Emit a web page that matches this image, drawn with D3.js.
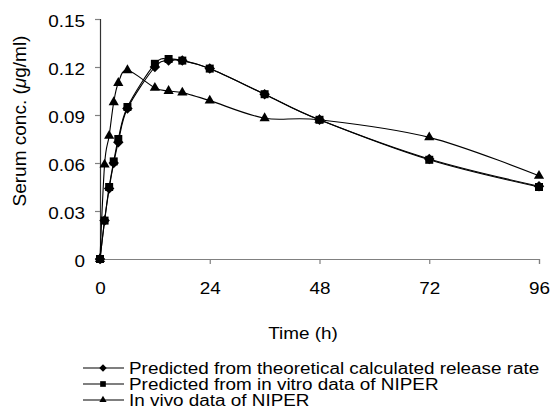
<!DOCTYPE html>
<html>
<head>
<meta charset="utf-8">
<script src="https://cdn.jsdelivr.net/npm/d3@7"></script>
<style>
  body { margin: 0; background: #fff; }
  text { font-family: "Liberation Sans", Arial, sans-serif; fill: #000; }
</style>
</head>
<body>
<div class="chart"></div>
<script>
var times = [0, 1, 2, 3, 4, 6, 12, 15, 18, 24, 36, 48, 72, 96];
var theoretical = [0, 0.024, 0.044, 0.060, 0.073, 0.094, 0.120, 0.124, 0.124, 0.119, 0.103, 0.087, 0.0625, 0.0455];
var inVitro = [0, 0.024, 0.045, 0.061, 0.075, 0.095, 0.122, 0.125, 0.124, 0.119, 0.103, 0.087, 0.062, 0.045];
var inVivo = [0, 0.059, 0.077, 0.098, 0.110, 0.118, 0.107, 0.105, 0.104, 0.099, 0.088, 0.087, 0.076, 0.052];
var xTicks = [0, 24, 48, 72, 96];
var yTicks = [0, 0.03, 0.06, 0.09, 0.12, 0.15];
var seriesNames = ["Predicted from theoretical calculated release rate", "Predicted from in vitro data of NIPER", "In vivo data of NIPER"];

var svgWidth = 553;
var svgHeight = 419;
var stretch = 1.18; // text in the picture is a bit wider than plain Arial

var margin = { top: 19, left: 100 };
var width = 439;
var height = 240;

var svg = d3.select(".chart")
  .append("svg")
  .attr("width", svgWidth)
  .attr("height", svgHeight);

var chartGroup = svg.append("g")
  .attr("transform", `translate(${margin.left}, ${margin.top})`);

var xScale = d3.scaleLinear().domain([0, 96]).range([0, width]);
var yScale = d3.scaleLinear().domain([0, 0.15]).range([height, 0]);

var bottomAxis = d3.axisBottom(xScale).tickValues(xTicks).tickSize(5).tickPadding(19);
var leftAxis = d3.axisLeft(yScale).tickValues(yTicks).tickSize(5).tickPadding(10)
  .tickFormat(d => d === 0 ? "0" : d3.format(".2f")(d));

var xg = chartGroup.append("g")
  .attr("transform", `translate(0, ${height})`)
  .call(bottomAxis);
var yg = chartGroup.append("g").call(leftAxis);

[xg, yg].forEach(function(g) {
  g.select(".domain").attr("stroke", "#808080").attr("stroke-width", 1.2);
  g.selectAll(".tick line").attr("stroke", "#808080").attr("stroke-width", 1.2);
  g.selectAll(".tick text").attr("font-size", 16).attr("fill", "#000")
    .attr("font-family", "Liberation Sans, Arial, sans-serif");
});
yg.select(".domain").attr("stroke", "#333");
yg.selectAll(".tick text").attr("dy", "0.45em");

var diamond = {
  draw: function(ctx, size) {
    var r = Math.sqrt(size / 2);
    ctx.moveTo(0, -r);
    ctx.lineTo(r, 0);
    ctx.lineTo(0, r);
    ctx.lineTo(-r, 0);
    ctx.closePath();
  }
};

var series = [
  { name: seriesNames[0], values: theoretical, symbol: diamond, size: 55 },
  { name: seriesNames[1], values: inVitro, symbol: d3.symbolSquare, size: 64 },
  { name: seriesNames[2], values: inVivo, symbol: d3.symbolTriangle, size: 45 }
];

var line = d3.line()
  .x(d => xScale(d[0]))
  .y(d => yScale(d[1]))
  .curve(d3.curveCatmullRom.alpha(0));

series.forEach(function(s) {
  var pts = times.map((t, i) => [t, s.values[i]]);
  chartGroup.append("path")
    .datum(pts)
    .attr("fill", "none")
    .attr("stroke", "#000")
    .attr("stroke-width", 1.1)
    .attr("d", line);
});

series.forEach(function(s) {
  var pts = times.map((t, i) => [t, s.values[i]]);
  chartGroup.selectAll(null)
    .data(pts)
    .enter()
    .append("path")
    .attr("transform", d => `translate(${xScale(d[0])}, ${yScale(d[1])})`)
    .attr("d", d3.symbol().type(s.symbol).size(s.size))
    .attr("fill", "#000");
});

var yLabel = svg.append("text")
  .attr("transform", "translate(26, 121) rotate(-90)")
  .attr("text-anchor", "middle")
  .attr("font-size", 19)
  .html('Serum conc. (<tspan font-style="italic">μ</tspan>g/ml)');

svg.append("text")
  .attr("class", "wide")
  .attr("x", 303)
  .attr("y", 339)
  .attr("text-anchor", "middle")
  .attr("font-size", 16)
  .text("Time (h)");

var legend = svg.append("g");
series.forEach(function(s, i) {
  var y = 368 + i * 16;
  legend.append("line")
    .attr("x1", 83).attr("x2", 124)
    .attr("y1", y).attr("y2", y)
    .attr("stroke", "#000").attr("stroke-width", 1.1);
  legend.append("path")
    .attr("transform", `translate(103, ${y})`)
    .attr("d", d3.symbol().type(s.symbol).size(s.size * 0.5))
    .attr("fill", "#000");
  legend.append("text")
    .attr("class", "wide")
    .attr("x", 129)
    .attr("y", y + 6)
    .attr("font-size", 16)
    .text(s.name);
});

// widen horizontal texts to match the picture
svg.selectAll(".wide, .tick text").each(function() {
  var w = this.getComputedTextLength();
  d3.select(this).attr("textLength", w * stretch).attr("lengthAdjust", "spacingAndGlyphs");
});
</script>
</body>
</html>
